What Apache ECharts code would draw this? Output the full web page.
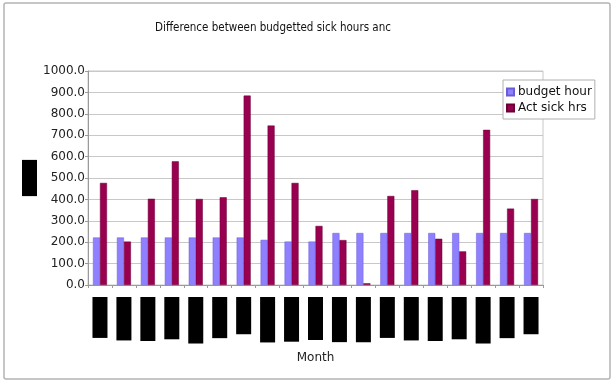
<!DOCTYPE html>
<html>
<head>
<meta charset="utf-8">
<script src="https://cdn.jsdelivr.net/npm/echarts@6/dist/echarts.min.js"></script>
<style>
  html, body { margin: 0; padding: 0; background: #fff; }
  #chart { width: 614px; height: 383px; }
</style>
</head>
<body>
<div id="chart"></div>
<script>
// Months covered by the report
const months = ['Jan-05','Feb-05','Mar-05','Apr-05','May-05','Jun-05','Jul-05','Aug-05','Sep-05','Oct-05',
                'Nov-05','Dec-05','Jan-06','Feb-06','Mar-06','Apr-06','May-06','Jun-06','Jul-06'];
// Budgeted sick hours per month
const budgetHours = [222, 222, 222, 222, 222, 222, 222, 211, 203, 203,
                     243, 243, 243, 243, 243, 243, 243, 243, 243];
// Actual sick hours taken per month
const actualHours = [477, 203, 403, 578, 402, 410, 885, 745, 477, 276,
                     210, 8, 416, 443, 216, 157, 725, 357, 402];
// Value axis ticks
const yTicks = { min: 0, max: 1000, interval: 100 };

const FONT = "'DejaVu Sans', 'Noto Sans', sans-serif";

const chart = echarts.init(document.getElementById('chart'), null, { renderer: 'canvas' });
chart.setOption({
  animation: false,
  backgroundColor: '#fff',
  graphic: [{
    type: 'rect',
    shape: { x: 4, y: 3, width: 606, height: 376, r: 2 },
    style: { fill: 'none', stroke: '#b4b4b4', lineWidth: 1.5 },
    silent: true
  }],
  title: {
    text: 'Difference between budgetted sick hours anc',
    left: 268, top: 17, textAlign: 'center',
    textStyle: { fontFamily: "'DejaVu Sans Condensed', 'DejaVu Sans', sans-serif", fontSize: 11.5, fontWeight: 'normal', color: '#111' }
  },
  legend: {
    orient: 'vertical',
    left: 503, top: 80,
    padding: [6, 3, 5, 3],
    itemGap: 4,
    itemWidth: 7, itemHeight: 7,
    icon: 'rect',
    backgroundColor: '#fff',
    borderColor: '#b0b0b0', borderWidth: 1,
    textStyle: { fontFamily: FONT, fontSize: 12, color: '#111', padding: [0, 0, 0, -1] },
    data: ['budget hour', 'Act sick hrs']
  },
  grid: {
    left: 88, top: 71, right: 71, bottom: 98,
    show: true, borderColor: '#c8c8c8', borderWidth: 1
  },
  xAxis: {
    type: 'category',
    data: months,
    name: 'Month',
    nameLocation: 'middle',
    nameGap: 67,
    nameMoveOverlap: false,
    nameTextStyle: { fontFamily: FONT, fontSize: 12, color: '#222' },
    axisLine: { lineStyle: { color: '#9a9a9a' } },
    axisTick: { show: true, length: 3, lineStyle: { color: '#9a9a9a' } },
    axisLabel: {
      rotate: 90, margin: 12, interval: 0,
      fontFamily: FONT, fontSize: 11,
      color: '#000', backgroundColor: '#000',
      padding: [2, 3, 2, 3]
    }
  },
  yAxis: {
    type: 'value',
    min: yTicks.min, max: yTicks.max, interval: yTicks.interval,
    name: 'Hours',
    nameLocation: 'middle',
    nameGap: 51,
    nameMoveOverlap: false,
    nameRotate: 90,
    nameTextStyle: { fontFamily: FONT, fontSize: 11, color: '#000', backgroundColor: '#000', padding: [2, 2, 2, 2] },
    axisLine: { show: true, lineStyle: { color: '#9a9a9a' } },
    axisTick: { show: true, length: 3, lineStyle: { color: '#9a9a9a' } },
    axisLabel: {
      margin: 3,
      fontFamily: FONT, fontSize: 12, color: '#222',
      formatter: v => v.toFixed(1)
    },
    splitLine: { lineStyle: { color: '#c8c8c8', width: 1 } }
  },
  series: [
    {
      name: 'budget hour', type: 'bar', data: budgetHours,
      barWidth: 7, barGap: '0%',
      itemStyle: { color: '#8f80ff', borderColor: '#6a5cd6', borderWidth: 0.5 }
    },
    {
      name: 'Act sick hrs', type: 'bar', data: actualHours,
      barWidth: 7,
      itemStyle: { color: '#99004f', borderColor: '#6a0036', borderWidth: 0.5 }
    }
  ]
});
</script>
</body>
</html>
